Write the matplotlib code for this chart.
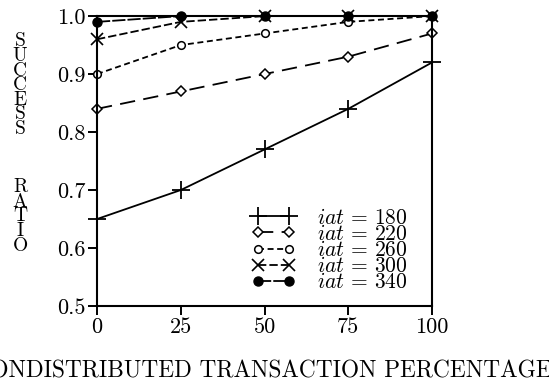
import matplotlib
matplotlib.use("Agg")
import matplotlib.pyplot as plt

plt.rcParams['mathtext.fontset'] = 'cm'
plt.rcParams['lines.scale_dashes'] = False
plt.rcParams['axes.formatter.use_mathtext'] = True

# Non-distributed transaction percentage
pct = [0, 25, 50, 75, 100]

# Success ratio for each inter-arrival time
iat_values = [180, 220, 260, 300, 340]
ratio_180 = [0.65, 0.70, 0.77, 0.84, 0.92]
ratio_220 = [0.84, 0.87, 0.90, 0.93, 0.97]
ratio_260 = [0.90, 0.95, 0.97, 0.99, 1.00]
ratio_300 = [0.96, 0.99, 1.00, 1.00, 1.00]
ratio_340 = [0.99, 1.00, 1.00, 1.00, 1.00]

x_ticks = [0, 25, 50, 75, 100]
y_ticks = [0.5, 0.6, 0.7, 0.8, 0.9, 1.0]

series = [ratio_180, ratio_220, ratio_260, ratio_300, ratio_340]
styles = [
    dict(linestyle='-', marker='+', markersize=13, markeredgewidth=1.3),
    dict(linestyle=(0, (11, 6)), marker='D', markersize=5, markerfacecolor='white', markeredgewidth=1.1),
    dict(linestyle=(0, (4.3, 2.6)), marker='o', markersize=5.5, markerfacecolor='white', markeredgewidth=1.1),
    dict(linestyle=(0, (6, 2.2)), marker='x', markersize=8, markeredgewidth=1.2),
    dict(linestyle=(0, (9.5, 1.5)), marker='o', markersize=6.5, markerfacecolor='black', markeredgewidth=1.0),
]

fig = plt.figure(figsize=(5.49, 3.83), dpi=100)
ax = fig.add_axes([0.1767, 0.201, 0.6102, 0.757])

for vals, iat, st in zip(series, iat_values, styles):
    ax.plot(pct, vals, color='black', linewidth=1.3, clip_on=False,
            label=r'$iat\,=\,%d$' % iat, **st)

ax.set_xlim(0, 100)
ax.set_ylim(0.5, 1.0)
ax.set_xticks(x_ticks)
ax.set_yticks(y_ticks)
ax.set_xticklabels([str(v) for v in x_ticks], fontfamily='cmr10', fontsize=16)
ax.set_yticklabels(['%.1f' % v for v in y_ticks], fontfamily='cmr10', fontsize=16)
ax.tick_params(direction='out', length=6.5, width=1.4, pad=1.5, color='black')
for sp in ax.spines.values():
    sp.set_linewidth(1.5)

leg = ax.legend(loc='lower right', bbox_to_anchor=(0.96, 0.01), frameon=False,
                numpoints=2, handlelength=2.05, handletextpad=1.0,
                labelspacing=-0.18, borderpad=0.0, fontsize=15.5)

fig.text(0.0365, 0.915, 'S\nU\nC\nC\nE\nS\nS\n\n\n\nR\nA\nT\nI\nO',
         fontfamily='cmr10', fontsize=14, ha='center', va='top',
         linespacing=0.76)

fig.text(0.478, 0.0, 'NONDISTRIBUTED TRANSACTION PERCENTAGE',
         fontfamily='cmr10', fontsize=16.8, ha='center', va='bottom')

fig.savefig('out.png', dpi=100)
